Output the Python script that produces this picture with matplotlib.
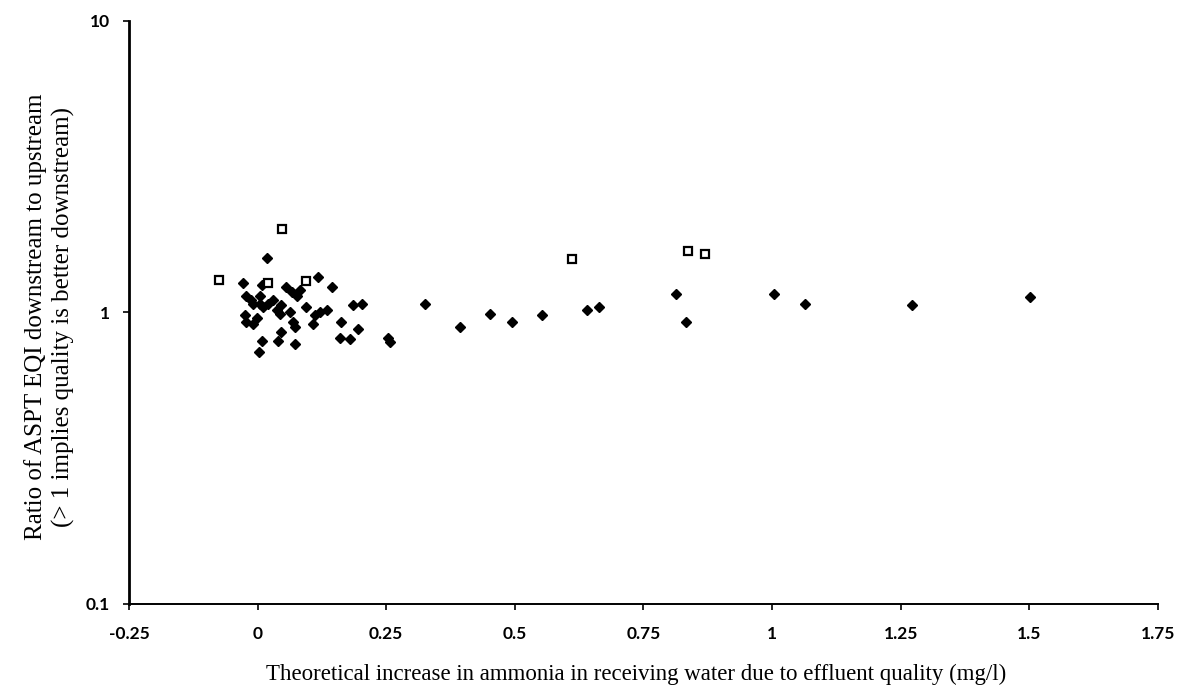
# Scatter of ASPT EQI ratio vs theoretical ammonia increase

import numpy as np
import matplotlib.pyplot as plt
from matplotlib.ticker import FixedLocator, FixedFormatter, NullLocator

# filled diamonds
x_diamond = [0.018, -0.028, 0.008, 0.055, 0.066, 0.077, -0.022, -0.012, 0.004, 0.004,
             0.011, 0.030, 0.037, 0.046, 0.043, -0.025, -0.022, -0.009, -0.002, 0.063,
             0.069, 0.072, 0.046, 0.040, 0.008, 0.003, 0.072, 0.118, 0.145, 0.082,
             0.095, 0.111, 0.121, 0.134, 0.108, 0.186, 0.202, 0.163, 0.196, 0.160,
             0.179, 0.254, 0.257, -0.009, 0.020, 0.325, 0.393, 0.452, 0.495, 0.552,
             0.641, 0.664, 0.814, 0.833, 1.004, 1.065, 1.272, 1.502]
y_diamond = [1.54, 1.26, 1.24, 1.22, 1.18, 1.14, 1.14, 1.10, 1.14, 1.07,
             1.04, 1.10, 1.02, 1.06, 0.99, 0.98, 0.93, 0.91, 0.96, 1.00,
             0.93, 0.89, 0.86, 0.80, 0.80, 0.73, 0.78, 1.32, 1.22, 1.19,
             1.04, 0.98, 1.00, 1.02, 0.91, 1.06, 1.07, 0.93, 0.88, 0.82,
             0.81, 0.82, 0.79, 1.07, 1.07, 1.07, 0.89, 0.99, 0.93, 0.98,
             1.02, 1.04, 1.16, 0.93, 1.16, 1.07, 1.06, 1.13]

# open squares
x_square = [-0.075, 0.048, 0.020, 0.095, 0.611, 0.836, 0.869]
y_square = [1.29, 1.94, 1.26, 1.28, 1.52, 1.63, 1.59]

x_ticks = [-0.25, 0, 0.25, 0.5, 0.75, 1, 1.25, 1.5, 1.75]
x_ticklabels = ['-0.25', '0', '0.25', '0.5', '0.75', '1', '1.25', '1.5', '1.75']
y_ticks = [0.1, 1, 10]
y_ticklabels = ['0.1', '1', '10']

plt.rcParams['font.family'] = ['Liberation Serif', 'DejaVu Serif']

fig = plt.figure(figsize=(11.9, 6.98), dpi=100)
ax = fig.add_axes([0.1084, 0.1347, 0.8646, 0.8353])

ax.plot(x_diamond, y_diamond, 'D', color='black', markersize=5, linestyle='none')
ax.plot(x_square, y_square, 's', markerfacecolor='white', markeredgecolor='black',
        markeredgewidth=1.6, markersize=5.4, linestyle='none')

ax.set_yscale('log')
ax.set_xlim(-0.25, 1.75)
ax.set_ylim(0.1, 10)

ax.xaxis.set_major_locator(FixedLocator(x_ticks))
ax.xaxis.set_major_formatter(FixedFormatter(x_ticklabels))
ax.yaxis.set_major_locator(FixedLocator(y_ticks))
ax.yaxis.set_major_formatter(FixedFormatter(y_ticklabels))
ax.yaxis.set_minor_locator(NullLocator())
ax.xaxis.set_minor_locator(NullLocator())

for s in ['top', 'right']:
    ax.spines[s].set_visible(False)
ax.spines['left'].set_linewidth(2)
ax.spines['bottom'].set_linewidth(1.4)

ax.tick_params(axis='both', direction='out', length=4, width=1.2)
ax.tick_params(axis='x', pad=12)
ax.tick_params(axis='y', pad=10)
for lab in ax.get_xticklabels() + ax.get_yticklabels():
    lab.set_family(['Lato', 'DejaVu Sans'])
    lab.set_fontweight('bold')
    lab.set_fontsize(12.5)

ax.set_xlabel('Theoretical increase in ammonia in receiving water due to effluent quality (mg/l)',
              fontsize=16.5)
ax.xaxis.set_label_coords(0.4927, -0.120)
ax.xaxis.label.set_verticalalignment('center')

ax.set_ylabel('Ratio of ASPT EQI downstream to upstream\n(> 1 implies quality is better downstream)',
              fontsize=18, linespacing=1.3)
ax.yaxis.set_label_coords(-0.077, 0.493)
ax.yaxis.label.set_verticalalignment('center')

fig.savefig('out.png', dpi=100)
